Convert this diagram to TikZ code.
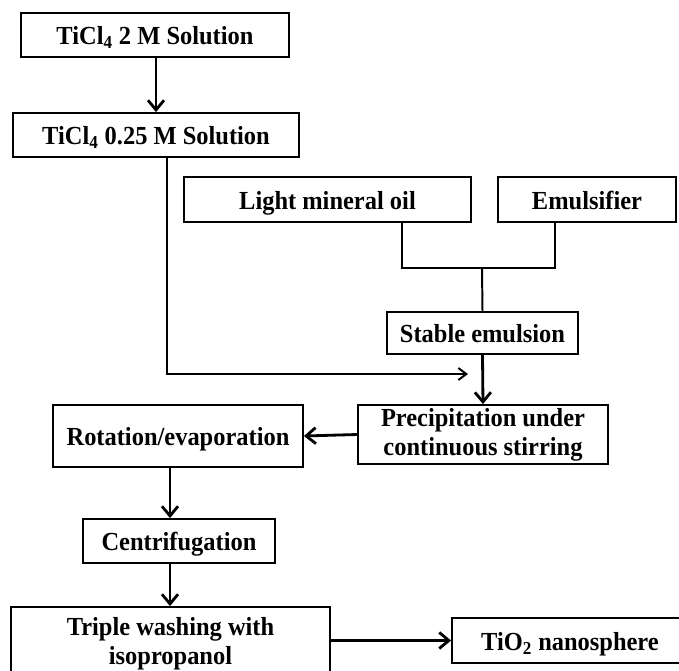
\documentclass[tikz,border=0pt]{standalone}
\usepackage{fontspec}
\setmainfont[FakeStretch=0.94]{Liberation Serif}
\usetikzlibrary{positioning, arrows.meta}

\tikzset{
  stepbox/.style={rectangle, draw, line width=1.3pt, inner sep=0pt, align=center, font=\bfseries\fontsize{18.5}{20.5}\selectfont},
  oneline/.style={stepbox, text height=15pt, text depth=1pt},
  flow/.style={-{Straight Barb[length=2.4mm, width=4mm]}, line width=2pt},
  feed/.style={line width=1.4pt}
}

\begin{document}
\begin{tikzpicture}[x=0.025cm, y=-0.025cm]
\useasboundingbox (0,0) rectangle (679,671);

% Titanium chloride solutions
\node[oneline, minimum width=6.7cm, minimum height=1.1cm] (sol2) at (155,35) {TiCl\textsubscript{4} 2 M Solution};
\node[oneline, minimum width=7.15cm, minimum height=1.1cm] (sol025) at (156,135) {TiCl\textsubscript{4} 0.25 M Solution};

% Oil phase
\node[oneline, minimum width=7.175cm, minimum height=1.125cm] (oil) at (327.5,199.5) {Light mineral oil};
\node[oneline, minimum width=4.45cm, minimum height=1.125cm] (emul) at (587,199.5) {Emulsifier};
\node[oneline, minimum width=4.775cm, minimum height=1.05cm] (stable) at (482.5,333) {Stable emulsion};

% Processing steps
\node[stepbox, minimum width=6.25cm, minimum height=1.475cm] (precip) at (483,434.5) {Precipitation under\\continuous stirring};
\node[oneline, minimum width=6.25cm, minimum height=1.55cm] (rot) at (178,436) {Rotation/evaporation};
\node[oneline, minimum width=4.8cm, minimum height=1.1cm] (centr) at (179,541) {Centrifugation};
\node[stepbox, minimum width=7.975cm, minimum height=1.85cm] (wash) at (170.5,644) {Triple washing with\\isopropanol};
\node[oneline, minimum width=5.9cm, minimum height=1.125cm] (tio2) at (570,640.5) {TiO\textsubscript{2} nanosphere};

\coordinate (join) at (482,268);
\coordinate (mix) at (468,374);

\draw[flow] (sol2.south -| sol025.south) -- (sol025.north);
\draw[feed, -{Straight Barb[length=2mm, width=3mm]}] ([xshift=0.275cm]sol025.south) |- (mix);

\draw[line width=2pt] ([xshift=1.86cm]oil.south) |- (join) -| ([xshift=-0.8cm]emul.south);
\draw[feed] (join) -- (stable.north);
\draw[flow] (stable.south) -- (precip.north);

\draw[flow] (precip.west) -- (rot.east);
\draw[flow] ([xshift=-0.2cm]rot.south) -- ([xshift=-0.2cm]rot.south |- centr.north);
\draw[flow] ([xshift=-0.225cm]centr.south) -- ([xshift=-0.225cm]centr.south |- wash.north);
\draw[flow] (tio2.west -| wash.east) -- (tio2.west);

\end{tikzpicture}
\end{document}
